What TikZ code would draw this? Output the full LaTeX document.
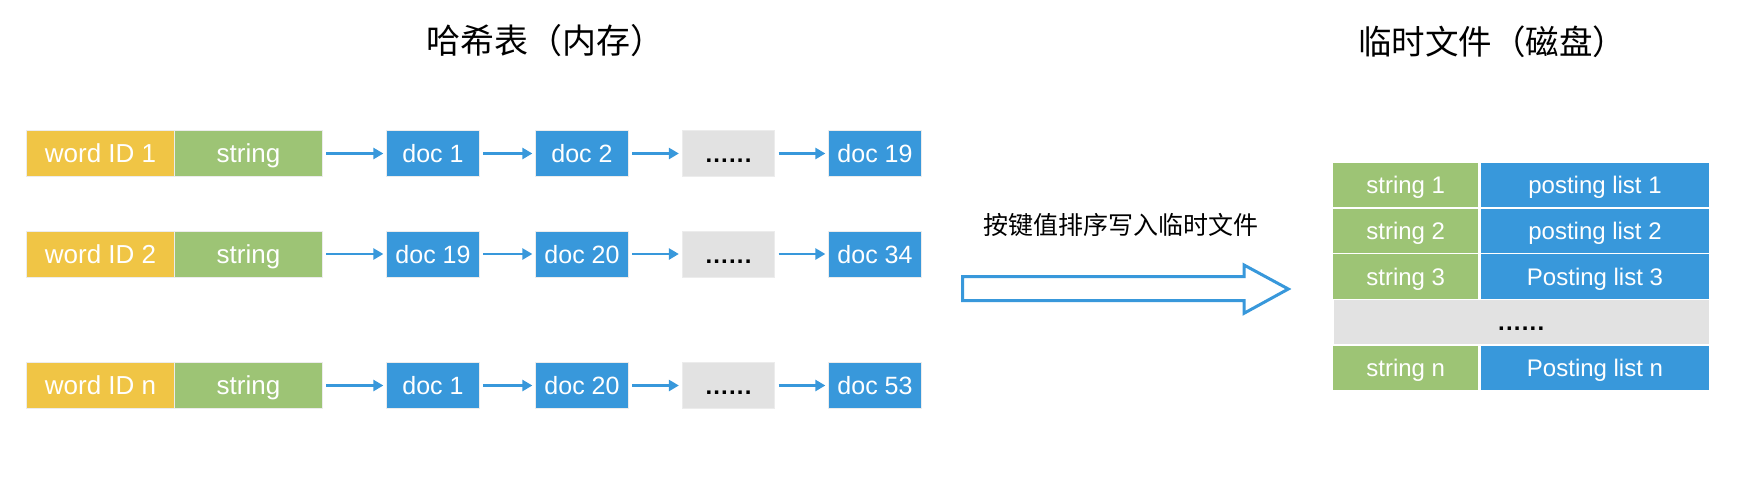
\documentclass[tikz,border=0pt]{standalone}
\usepackage{fontspec}
\setmainfont{Liberation Sans}
\newfontfamily\cjk{Noto Sans CJK SC}
\usetikzlibrary{arrows.meta}
\definecolor{cyel}{HTML}{F0C545}
\definecolor{cgrn}{HTML}{9DC475}
\definecolor{cblu}{HTML}{3898DB}
\definecolor{cgry}{HTML}{E2E2E2}
\newcommand{\sixdots}{.\kern1.2pt.\kern1.2pt.\kern1.2pt.\kern1.2pt.\kern1.2pt.}
\tikzset{
  cell/.style={draw=white!85!gray, line width=0.8pt, minimum height=46, inner sep=0pt, text=white, text height=18pt, text depth=0pt, font=\fontsize{25}{30}\selectfont},
  widbox/.style={cell, fill=cyel, minimum width=148, font=\fontsize{26}{30}\selectfont},
  strbox/.style={cell, fill=cgrn, minimum width=148, font=\fontsize{26}{30}\selectfont},
  docbox/.style={cell, fill=cblu, minimum width=92.5},
  dotbox/.style={cell, fill=cgry, minimum width=92.5, text=black, font=\fontsize{24}{30}\selectfont\bfseries},
  link/.style={draw=cblu, line width=2.7pt, -{Triangle[length=10pt,width=11pt]}, shorten <=3.5pt, shorten >=3pt},
  tcell/.style={draw=white, line width=1.6pt, minimum height=45.8, inner sep=0pt, text=white, text height=17.3pt, text depth=0pt, font=\fontsize{24}{28}\selectfont},
  tstr/.style={tcell, fill=cgrn, minimum width=147},
  tpost/.style={tcell, fill=cblu, minimum width=230},
  tdots/.style={tcell, fill=cgry, minimum width=377, text=black, font=\fontsize{24}{28}\selectfont\bfseries},
}
\begin{document}
\begin{tikzpicture}[x=1pt,y=-1pt]
\useasboundingbox (0,0) rectangle (1746,498);
% titles
\node[font=\cjk\fontsize{34}{38}\selectfont] (t1) at (545,41) {哈希表（内存）};
\node[font=\cjk\fontsize{33.5}{38}\selectfont] (t2) at (1492,42) {临时文件（磁盘）};
% rows
\foreach \r/\y/\w/\a/\b/\c in {1/153.5/1/1/2/19, 2/254/2/19/20/34, 3/385.5/n/1/20/53}{
  \node[widbox] (w\r) at (100.5,\y) {word ID \w};
  \node[strbox] (s\r) at (248.5,\y) {string};
  \node[docbox] (a\r) at (433,\y) {doc \a};
  \node[docbox] (b\r) at (582,\y) {doc \b};
  \node[dotbox] (d\r) at (728.5,\y) {\sixdots};
  \node[docbox] (c\r) at (875,\y) {doc \c};
  \draw[link] (s\r) -- (a\r);
  \draw[link] (a\r) -- (b\r);
  \draw[link] (b\r) -- (d\r);
  \draw[link] (d\r) -- (c\r);
}
% middle label and big arrow
\node[font=\cjk\fontsize{25}{30}\selectfont] (lbl) at (1121,225) {按键值排序写入临时文件};
\draw[draw=cblu, line width=3pt, fill=white, line join=miter]
  (962.7,276.7) -- (1244,276.7) -- (1244,265) -- (1288.3,289) -- (1244,313.3) -- (1244,300.7) -- (962.7,300.7) -- cycle;
% table
\node[tstr] (ts1) at (1405.7,184.9) {string 1};
\node[tpost] (tp1) at (1595,184.9) {posting list 1};
\node[tstr] (ts2) at (1405.7,230.7) {string 2};
\node[tpost] (tp2) at (1595,230.7) {posting list 2};
\node[tstr] (ts3) at (1405.7,276.5) {string 3};
\node[tpost] (tp3) at (1595,276.5) {Posting list 3};
\node[tdots] (tdd) at (1521.2,322.3) {\sixdots};
\node[tstr] (tsn) at (1405.7,368.1) {string n};
\node[tpost] (tpn) at (1595,368.1) {Posting list n};
\end{tikzpicture}
\end{document}
